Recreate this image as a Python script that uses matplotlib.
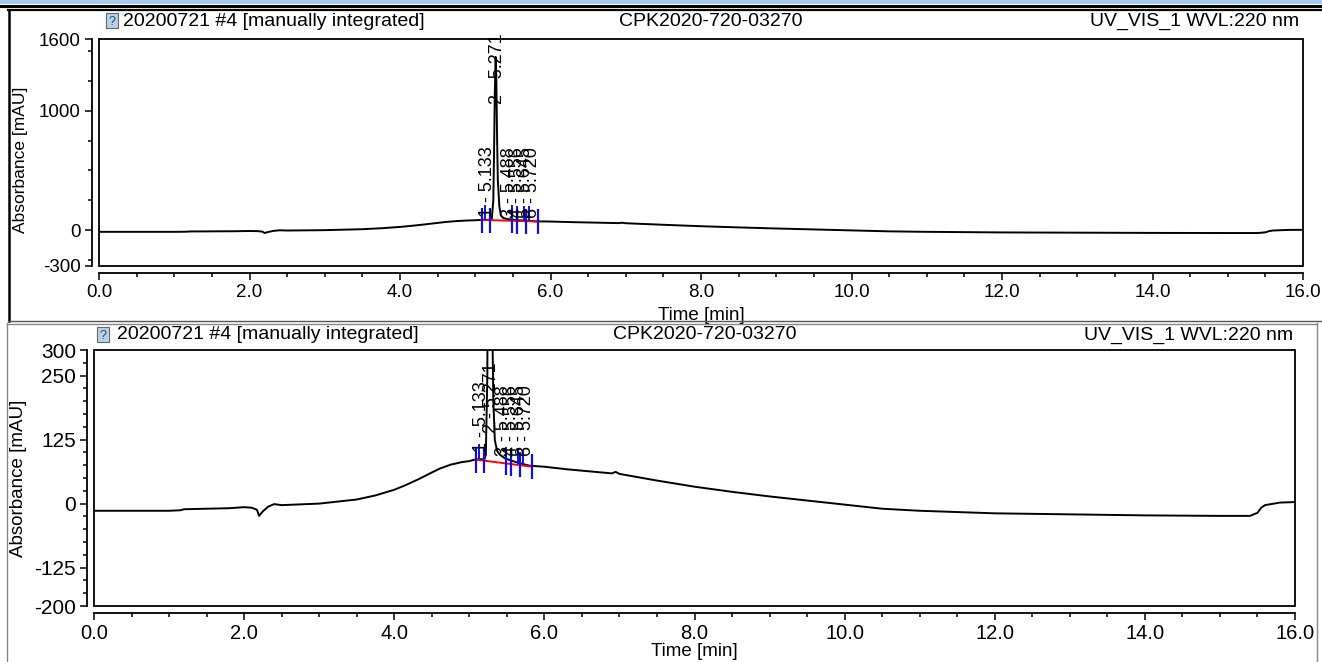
import matplotlib
matplotlib.use("Agg")
import matplotlib.pyplot as plt
from matplotlib.patches import Rectangle
from matplotlib.lines import Line2D
from matplotlib.path import Path
from matplotlib.ticker import MultipleLocator, FixedLocator, FormatStrFormatter

plt.rcParams['font.family'] = ['Liberation Sans', 'DejaVu Sans']
plt.rcParams['axes.unicode_minus'] = False

# chromatogram (time in min, absorbance in mAU)
time = [0.0, 0.5, 1.0, 1.15, 1.2, 1.5, 1.8, 2.0, 2.1, 2.17, 2.2, 2.25, 2.32, 2.4,
        2.5, 3.0, 3.5, 3.75, 4.0, 4.15, 4.3, 4.45, 4.6, 4.75, 4.9, 5.0, 5.05, 5.13,
        5.2, 5.22, 5.24, 5.25, 5.26, 5.271, 5.28, 5.29, 5.30, 5.32, 5.34, 5.37,
        5.41, 5.48, 5.6, 5.8, 6.0, 6.3, 6.6, 6.9, 6.95, 7.0, 7.5, 8.0, 8.5, 9.0,
        9.5, 10.0, 10.25, 10.5, 10.75, 11.0, 12.0, 13.0, 14.0, 15.0, 15.4, 15.5,
        15.55, 15.6, 15.8, 16.0]
absorb = [-14, -14, -14, -13, -11, -10, -9, -7, -8, -12, -24, -15, -6, -1,
          -3, 0, 8, 16, 27, 36, 46, 57, 68, 76, 81, 83, 85, 87,
          86, 95, 250, 650, 1150, 1450, 1280, 780, 420, 200, 124, 103,
          95, 88, 82, 74, 72, 67, 63, 59, 62, 58, 45, 33, 23, 14,
          6, -2, -6, -10, -12, -14, -19, -21, -23, -24, -24, -18,
          -8, -3, 2, 3]

peak_num = [1, 2, 3, 4, 5, 6]
peak_rt = [5.133, 5.271, 5.488, 5.556, 5.645, 5.720]
peak_base = [87, 86, 82, 80, 78, 76]
label_y_top = [110, 1060, 105, 105, 105, 105]
label_y_bot = [100, 138, 92, 92, 92, 92]
delim_t = [5.09, 5.20, 5.49, 5.56, 5.68, 5.83]
delim_y = [86, 86, 82, 80, 77, 73]
base_t = [5.08, 5.84]
base_y = [86, 72]

# small sideways nudges of the peak labels (points)
label_dx = [1.5, 1, -2, 0, 1, 2]

W, H = 1322, 662
fig = plt.figure(figsize=(W / 100, H / 100), dpi=100)


def fx(px):
    return px / W


def fy(py):
    return 1 - py / H


def hline(y, x0, x1, color, lw):
    fig.add_artist(Line2D([fx(x0), fx(x1)], [fy(y), fy(y)], color=color, lw=lw,
                          transform=fig.transFigure))


def vline(x, y0, y1, color, lw):
    fig.add_artist(Line2D([fx(x), fx(x)], [fy(y0), fy(y1)], color=color, lw=lw,
                          transform=fig.transFigure))


# window frames
fig.add_artist(Rectangle((0, fy(4)), 1, 4 / H, transform=fig.transFigure,
                         facecolor='#a9c9ec', edgecolor='none'))
hline(5.5, 0, W, 'black', 2.2)
hline(10, 8, W, 'black', 1.6)
vline(8.5, 10, 321, 'black', 1.8)
hline(320.5, 8, W, '#555555', 1.0)
hline(323.5, 7, 1317, '#888888', 1.0)
vline(7, 323, H, '#888888', 1.0)
vline(1317, 323, H, '#888888', 1.0)

up_tick = Path([(0, 0), (0, 1)])


def panel(box, ylim, major, minor_step, labels_y, title_y, icon_x, texts_x,
          ylab_xy, xlab_y, tsize, ysize, labsize):
    x0, y0, x1, y1 = box
    ax = fig.add_axes([fx(x0), fy(y1), fx(x1 - x0), (y1 - y0) / H])
    ax.plot(time, absorb, color='black', lw=1.4, zorder=3)
    ax.plot(base_t, base_y, color='red', lw=1.4, zorder=4)
    ax.plot(delim_t, delim_y, ls='none', marker='|', ms=18, mew=1.6,
            color='#1010e0', zorder=5)
    ax.plot([peak_rt[0]] + peak_rt[2:], [peak_base[0]] + peak_base[2:], ls='none',
            marker=up_tick, ms=22, mew=1.4, color='#1010e0', zorder=5)
    for n, rt, ly, dx in zip(peak_num, peak_rt, labels_y, label_dx):
        ax.annotate(f"{n} - {rt:.3f}", (rt, ly), xytext=(dx, 0),
                    textcoords='offset points', rotation=90, ha='center',
                    va='bottom', fontsize=13, zorder=6)
    ax.set_xlim(0, 16)
    ax.set_ylim(*ylim)
    ax.xaxis.set_major_locator(MultipleLocator(2))
    ax.xaxis.set_minor_locator(MultipleLocator(0.5))
    ax.xaxis.set_major_formatter(FormatStrFormatter('%.1f'))
    ax.yaxis.set_major_locator(FixedLocator(major))
    ax.yaxis.set_minor_locator(MultipleLocator(minor_step))
    for s in ['top', 'right']:
        ax.spines[s].set_visible(False)
    ax.spines['left'].set_position(('outward', 5))
    ax.spines['bottom'].set_position(('outward', 5))
    for s in ['left', 'bottom']:
        ax.spines[s].set_linewidth(1.3)
    ax.add_patch(Rectangle((0, 0), 1, 1, transform=ax.transAxes, fill=False,
                           edgecolor='black', lw=1.3, clip_on=False, zorder=7))
    ax.tick_params(which='major', direction='out', length=5, width=1.1, pad=3)
    ax.tick_params(which='minor', direction='out', length=3, width=1.1)
    ax.tick_params(axis='x', labelsize=tsize)
    ax.tick_params(axis='y', labelsize=ysize)
    ax.set_xlabel('Time [min]', fontsize=13.5)
    ax.set_ylabel('Absorbance [mAU]', fontsize=labsize, va='center')
    ax.yaxis.set_label_coords((ylab_xy[0] - x0) / (x1 - x0),
                              (y1 - ylab_xy[1]) / (y1 - y0))
    ax.xaxis.set_label_coords(0.5, (y1 - xlab_y) / (y1 - y0))
    ax.xaxis.label.set_va('center')

    # header row: icon + three texts
    fig.add_artist(Rectangle((fx(icon_x), fy(title_y + 7)), 12 / W, 15 / H,
                             transform=fig.transFigure, facecolor='#b8d0e8',
                             edgecolor='#666666', lw=0.8))
    fig.text(fx(icon_x + 6), fy(title_y + 1), '?', ha='center', va='center',
             fontsize=9, color='#334466')
    fig.text(fx(texts_x[0]), fy(title_y), '20200721 #4 [manually integrated]',
             ha='left', va='center', fontsize=14)
    fig.text(fx(texts_x[1]), fy(title_y), 'CPK2020-720-03270',
             ha='center', va='center', fontsize=14)
    fig.text(fx(texts_x[2]), fy(title_y), 'UV_VIS_1 WVL:220 nm',
             ha='right', va='center', fontsize=14)
    return ax


panel((99, 39, 1303, 266), (-300, 1600), [-300, 0, 1000, 1600], 250,
      label_y_top, 21, 106, (123, 711, 1299), (21, 160), 315, 13.5, 13.5, 12.5)
panel((94, 350, 1295, 606), (-200, 300), [-200, -125, 0, 125, 250, 300], 25,
      label_y_bot, 335, 97, (117, 705, 1293), (19, 478), 652, 14.5, 15, 13.5)

fig.savefig('out.png', dpi=100)
